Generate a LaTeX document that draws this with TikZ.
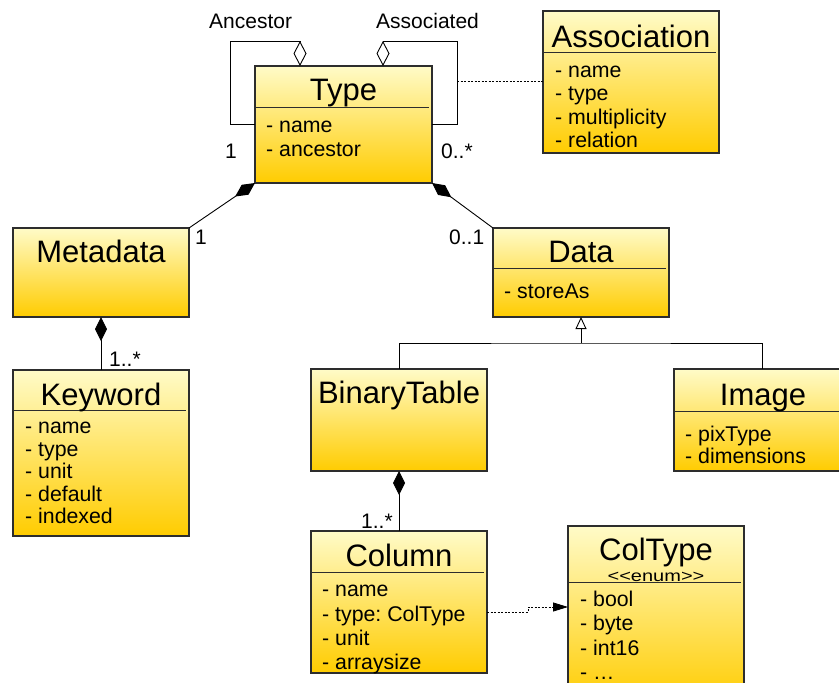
\documentclass[tikz,border=0pt]{standalone}
\usepackage{fontspec}
\setmainfont{Liberation Sans}
\usetikzlibrary{arrows.meta}
\definecolor{gtop}{RGB}{255,251,200}
\definecolor{gbot}{RGB}{255,204,0}
\definecolor{edgec}{RGB}{45,45,45}
\frenchspacing
\begin{document}
\begin{tikzpicture}[x=1pt,y=-1pt,
  classbox/.style={rectangle, draw=edgec, line width=1.1pt, top color=gtop, bottom color=gbot, inner sep=0pt, outer sep=0pt},
  titletxt/.style={font=\fontsize{31}{31}\selectfont, anchor=base, inner sep=0pt},
  stereotxt/.style={font=\fontsize{16}{16}\selectfont, anchor=base, inner sep=0pt},
  attrtxt/.style={font=\fontsize{21.3}{21.3}\selectfont, anchor=base west, inner sep=0pt},
  lbltxt/.style={font=\fontsize{21}{21}\selectfont, anchor=base west, inner sep=0pt},
  divider/.style={draw=edgec, line width=0.9pt},
  conn/.style={draw=black, line width=0.9pt},
  aggr/.style={conn, -{Diamond[open, length=25pt, width=13pt]}},
  comp/.style={conn, -{Diamond[length=24pt, width=12pt]}},
  gen/.style={conn, -{Triangle[open, length=12pt, width=11pt]}},
  dotl/.style={conn, line width=0.8pt, dash pattern=on 2pt off 1.5pt},
  dep/.style={conn, line width=0.8pt, dash pattern=on 2pt off 1.5pt, -{Triangle[length=15pt, width=9pt]}}
]
\path[use as bounding box] (0,0) rectangle (839,683);
\clip (0,0) rectangle (839,683);

% ---- class boxes ----
\node[classbox, minimum width=177pt, minimum height=117pt] (type) at (343.5,124.5) {};
\node[classbox, minimum width=176pt, minimum height=142pt] (assoc) at (631,82) {};
\node[classbox, minimum width=176pt, minimum height=89pt] (meta) at (101,272.5) {};
\node[classbox, minimum width=176pt, minimum height=89pt] (data) at (581,272.5) {};
\node[classbox, minimum width=176pt, minimum height=166pt] (kw) at (101,453) {};
\node[classbox, minimum width=176pt, minimum height=102pt] (bt) at (399,420) {};
\node[classbox, minimum width=176pt, minimum height=102pt] (img) at (762,420) {};
\node[classbox, minimum width=176pt, minimum height=142pt] (col) at (399,602) {};
\node[classbox, minimum width=176pt, minimum height=178pt] (ct) at (656,615) {};

% ---- dividers ----
\draw[divider] (255,107) -- (429,107);
\draw[divider] (543,52) -- (716,52);
\draw[divider] (493,268) -- (666,268);
\draw[divider] (13,410) -- (186,410);
\draw[divider] (674,411) -- (839,411);
\draw[divider] (311,572) -- (484,572);
\draw[divider] (568,582) -- (741,582);

% ---- titles ----
\node[titletxt] (typeT) at (343.5,100) {Type};
\node[titletxt] (assocT) at (631,47) {Association};
\node[titletxt] (metaT) at (101,262) {Metadata};
\node[titletxt] (dataT) at (581,262) {Data};
\node[titletxt] (kwT) at (101,405) {Keyword};
\node[titletxt] (btT) at (399,403) {BinaryTable};
\node[titletxt] (imgT) at (763,405) {Image};
\node[titletxt] (colT) at (399,566) {Column};
\node[titletxt] (ctT) at (656,560.5) {ColType};
\node[stereotxt] (ctS) at (656,581) {\scalebox{1.25}[1]{<{}<enum>{}>}};

% ---- attributes ----
\node[attrtxt] (typeA1) at (266,132) {- name};
\node[attrtxt] (typeA2) at (266,156) {- ancestor};
\node[attrtxt] (assocA1) at (555,77) {- name};
\node[attrtxt] (assocA2) at (555,100) {- type};
\node[attrtxt] (assocA3) at (555,124) {- multiplicity};
\node[attrtxt] (assocA4) at (555,147) {- relation};
\node[attrtxt] (dataA1) at (504,298) {- storeAs};
\node[attrtxt] (kwA1) at (25,433) {- name};
\node[attrtxt] (kwA2) at (25,456) {- type};
\node[attrtxt] (kwA3) at (25,478) {- unit};
\node[attrtxt] (kwA4) at (25,501) {- default};
\node[attrtxt] (kwA5) at (25,523) {- indexed};
\node[attrtxt] (imgA1) at (685,441) {- pixType};
\node[attrtxt] (imgA2) at (685,463) {- dimensions};
\node[attrtxt] (colA1) at (322,596) {- name};
\node[attrtxt] (colA2) at (322,621) {- type:\ ColType};
\node[attrtxt] (colA3) at (322,645) {- unit};
\node[attrtxt] (colA4) at (322,669) {- arraysize};
\node[attrtxt] (ctA1) at (580,606) {- bool};
\node[attrtxt] (ctA2) at (580,630) {- byte};
\node[attrtxt] (ctA3) at (580,655) {- int16};
\node[attrtxt] (ctA4) at (580,679) {- …};

% ---- self associations on Type ----
\coordinate (ancL) at (230,124);
\coordinate (ancT) at (230,41);
\coordinate (ancD) at (300,41);
\draw[aggr] (type.west |- ancL) -- (ancL) -- (ancT) -- (ancD) -- (type.north -| ancD);
\coordinate (asR) at (457,124);
\coordinate (asT) at (457,41);
\coordinate (asD) at (383,41);
\draw[aggr] (type.east |- asR) -- (asR) -- (asT) -- (asD) -- (type.north -| asD);
\coordinate (asDot) at (457,81);
\draw[dotl] (asDot) -- (assoc.west |- asDot);

% ---- compositions ----
\draw[comp] (meta.north east) -- (type.south west);
\draw[comp] (data.north west) -- (type.south east);
\draw[comp] (kw.north) -- (meta.south);
\draw[comp] (col.north) -- (bt.south);

% ---- generalization ----
\coordinate (genJ) at (581,343);
\draw[gen] (genJ) -- (data.south);
\draw[conn] (bt.north) |- (genJ) -| (img.north);

% ---- dependency ----
\coordinate (d1) at (528,612);
\coordinate (d2) at (528,607);
\draw[dep] (col.east |- d1) -- (d1) -- (d2) -- (ct.west |- d2);

% ---- labels ----
\node[lbltxt] (lAnc) at (209,28) {Ancestor};
\node[lbltxt] (lAss) at (376,28) {Associated};
\node[lbltxt] (l1a) at (225,158) {1};
\node[lbltxt] (l0s) at (441,158) {0..*};
\node[lbltxt] (l1b) at (195,244) {1};
\node[lbltxt] (l01) at (449,244) {0..1};
\node[lbltxt] (l1s) at (109,366) {1..*};
\node[lbltxt] (l1t) at (361,528) {1..*};
\end{tikzpicture}
\end{document}
